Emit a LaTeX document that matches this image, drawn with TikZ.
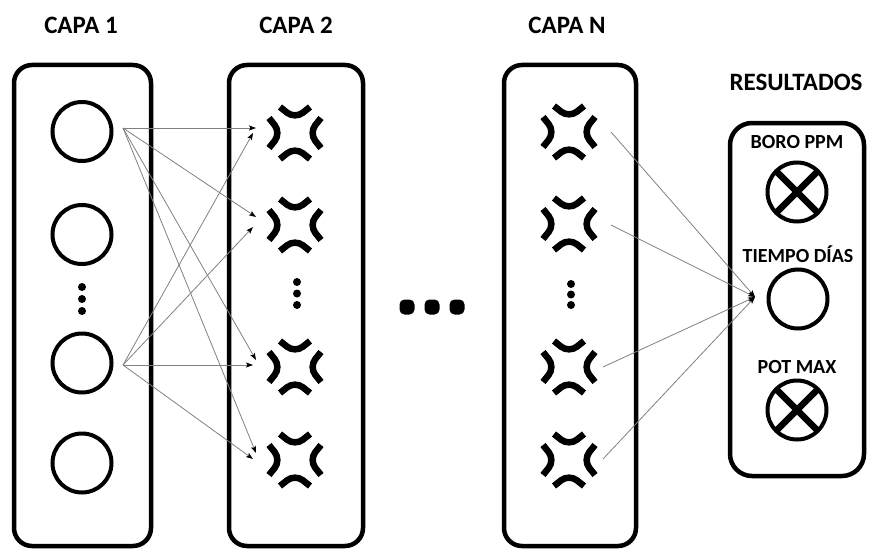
\documentclass[tikz,border=0pt]{standalone}
\usepackage{fontspec}
\setmainfont{Carlito}
\usetikzlibrary{arrows.meta}

\tikzset{
  % activation glyph: four chevrons pointing inwards
  anger/.pic={
    \coordinate (-c) at (0,0);
    \begin{scope}[line width=6.5pt, rounded corners=10pt, line cap=butt, line join=round]
      \draw (-15,-26) -- (0,-14) -- (15,-26);
      \draw (-15,26) -- (0,14) -- (15,26);
      \draw (-26,-15) -- (-14,0) -- (-26,15);
      \draw (26,-15) -- (14,0) -- (26,15);
    \end{scope}
  }
}

\begin{document}
\begin{tikzpicture}[x=1pt,y=-1pt,
  layerbox/.style={draw, line width=4.5pt, rounded corners=18pt, inner sep=0pt},
  unit/.style={draw, circle, line width=4pt, minimum size=59pt, inner sep=0pt},
  outunit/.style={unit, path picture={
      \draw[line width=6.5pt]
        (path picture bounding box.north west) -- (path picture bounding box.south east)
        (path picture bounding box.north east) -- (path picture bounding box.south west);}},
  title/.style={font=\fontsize{25}{30}\selectfont\bfseries, anchor=base},
  outlabel/.style={font=\fontsize{20}{24}\selectfont\bfseries, anchor=base},
  link/.style={draw=black!50, line width=0.8pt, -{Stealth[length=7pt,width=5pt,inset=1.5pt,black]}},
  smalldot/.style={fill, circle, minimum size=8pt, inner sep=0pt},
  bigdot/.style={fill, rounded corners=5pt, minimum size=15pt, inner sep=0pt},
]
\useasboundingbox (0,0) rectangle (873,551);

% titles
\node[title] (t1) at (81,34) {CAPA 1};
\node[title] (t2) at (296,34) {CAPA 2};
\node[title] (tn) at (567,34) {CAPA N};
\node[title] (tr) at (796,90) {RESULTADOS};

% layer frames
\node[layerbox, minimum width=137pt, minimum height=481pt] (L1) at (82.5,305.5) {};
\node[layerbox, minimum width=134pt, minimum height=481pt] (L2) at (296,305.5) {};
\node[layerbox, minimum width=132pt, minimum height=481pt] (LN) at (570,305.5) {};
\node[layerbox, rounded corners=22pt, minimum width=134pt, minimum height=353pt] (LR) at (797,299.5) {};

% input layer
\node[unit] (c1) at (82,131.5) {};
\node[unit] (c2) at (82,234.5) {};
\node[unit] (c3) at (82,363) {};
\node[unit] (c4) at (82,463) {};
\node[smalldot] (d11) at (82,287) {};
\node[smalldot] (d12) at (82,299) {};
\node[smalldot] (d13) at (82,311) {};

% hidden layer 2
\pic (g1) at (295,133) {anger};
\pic (g2) at (295,225) {anger};
\pic (g3) at (295,367) {anger};
\pic (g4) at (295,460) {anger};
\node[smalldot] (d21) at (297,282) {};
\node[smalldot] (d22) at (297,293.5) {};
\node[smalldot] (d23) at (297,305) {};

% hidden layer N
\pic (h1) at (569,132) {anger};
\pic (h2) at (569,224) {anger};
\pic (h3) at (569,367) {anger};
\pic (h4) at (569,460) {anger};
\node[smalldot] (dn1) at (571,284) {};
\node[smalldot] (dn2) at (571,294.5) {};
\node[smalldot] (dn3) at (571,305) {};

% ellipsis between layers
\node[bigdot] (e1) at (407,307) {};
\node[bigdot] (e2) at (432,307) {};
\node[bigdot] (e3) at (457,307) {};

% output layer
\node[outlabel] (r1) at (797,148) {BORO PPM};
\node[outunit] (o1) at (797,192) {};
\node[outlabel] (r2) at (798,262) {TIEMPO DÍAS};
\node[unit] (o2) at (798,299) {};
\node[outlabel] (r3) at (797,373) {POT MAX};
\node[outunit] (o3) at (797,410) {};

% connector end points
\coordinate (s1) at (123,128);
\coordinate (s3) at (123,365);
\coordinate (a1) at (256,128);
\coordinate (a2) at (256,217);
\coordinate (a3) at (256,360);
\coordinate (a4) at (256,453);
\coordinate (b1) at (253,133);
\coordinate (b2) at (253,227);
\coordinate (b3) at (253,365);
\coordinate (b4) at (253,459);
\coordinate (n1) at (611,132);
\coordinate (n2) at (611,225);
\coordinate (n3) at (603,367);
\coordinate (n4) at (603,459);
\coordinate (tip) at (755,297);

% layer 1 -> layer 2
\foreach \t in {a1,a2,a3,a4} \draw[link] (s1) -- (\t);
\foreach \t in {b1,b2,b3,b4} \draw[link] (s3) -- (\t);

% layer N -> output
\foreach \s in {n1,n2,n3,n4} \draw[link] (\s) -- (tip);
\end{tikzpicture}
\end{document}
